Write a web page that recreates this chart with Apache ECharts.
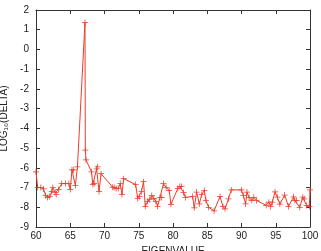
<!DOCTYPE html>
<html>
<head>
<meta charset="utf-8">
<script src="https://cdn.jsdelivr.net/npm/echarts@6/dist/echarts.min.js"></script>
<style>
  html, body { margin: 0; padding: 0; background: #fff; }
  #chart { width: 321px; height: 251px; }
</style>
</head>
<body>
<div id="chart"></div>
<script>
// eigenvalue (x) and log10(delta) (y)
var eigenvalue = [
  60.0, 60.25, 60.7, 61.1, 61.4, 61.7, 62.0, 62.3, 62.45, 62.8, 62.95, 63.3,
  63.75, 64.3, 64.8, 65.0, 65.25, 65.5, 65.75, 66.05, 67.15, 67.2, 67.3, 68.1,
  68.3, 68.5, 68.85, 69.0, 69.2, 69.5, 71.2, 71.4, 71.7, 72.0, 72.3, 72.55,
  72.8, 74.55, 74.85, 75.1, 75.4, 75.7, 75.95, 76.3, 76.6, 76.9, 77.2, 77.5,
  77.75, 78.1, 78.35, 78.6, 79.0, 79.45, 79.7, 80.7, 81.0, 81.25, 81.55, 81.8,
  82.87, 83.1, 83.45, 83.84, 84.2, 84.57, 84.81, 85.2, 86.0, 86.86, 87.3, 87.6,
  88.1, 88.5, 90.0, 90.27, 90.6, 90.8, 91.1, 91.5, 91.8, 92.2, 93.6, 94.0,
  94.25, 94.5, 94.9, 95.23, 95.6, 96.3, 96.85, 97.6, 97.8, 98.05, 98.5, 98.95,
  99.15, 99.5, 99.9, 100.0
];
var logDelta = [
  -6.2, -7.0, -7.0, -7.07, -7.4, -7.5, -7.45, -7.2, -7.0, -7.25, -7.35, -7.1,
  -6.8, -6.8, -6.8, -7.1, -6.1, -6.1, -6.9, -5.95, 1.37, -5.1, -5.6, -6.2,
  -6.85, -6.8, -6.05, -5.95, -7.2, -6.3, -6.98, -7.0, -7.05, -7.05, -6.8, -7.35,
  -6.55, -6.85, -7.55, -7.45, -7.2, -6.7, -7.95, -7.7, -7.6, -7.4, -7.55, -7.7,
  -7.95, -7.5, -7.5, -6.8, -7.0, -7.15, -7.85, -7.05, -6.95, -6.95, -7.25, -7.5,
  -7.45, -8.03, -7.23, -7.83, -7.35, -7.15, -7.66, -8.0, -8.18, -7.45, -7.97, -8.08,
  -7.57, -7.12, -7.12, -7.4, -7.83, -7.23, -7.5, -7.65, -7.5, -7.66, -7.9, -7.74,
  -7.97, -7.74, -7.22, -7.49, -7.84, -7.38, -7.96, -7.47, -7.66, -7.66, -8.0, -7.49,
  -7.57, -7.91, -7.96, -7.12
];

var chart = echarts.init(document.getElementById("chart"));

var frame = "#333";
var red = "#ee3b2b";
var font = "'Liberation Sans', Arial, sans-serif";

chart.setOption({
  animation: false,
  grid: { left: 36, right: 11, top: 10, bottom: 24, containLabel: false, outerBoundsMode: "none" },
  xAxis: [
    {
      type: "value", min: 60, max: 100, interval: 5,
      name: "EIGENVALUE", nameLocation: "middle", nameGap: 19,
      nameTextStyle: { color: "#222", fontSize: 10, fontFamily: font },
      axisLine: { onZero: false, lineStyle: { color: frame, width: 1 } },
      axisTick: { inside: true, length: 4, lineStyle: { color: frame } },
      axisLabel: { color: "#222", fontSize: 10, fontFamily: font, margin: 4 },
      splitLine: { show: false }
    },
    {
      type: "value", min: 60, max: 100, interval: 5, position: "top",
      axisLine: { onZero: false, lineStyle: { color: frame, width: 1 } },
      axisTick: { inside: true, length: 4, lineStyle: { color: frame } },
      axisLabel: { show: false },
      splitLine: { show: false }
    }
  ],
  yAxis: [
    {
      type: "value", min: -9, max: 2, interval: 1,
      name: "LOG\u2081\u2080(DELTA)", nameLocation: "middle", nameGap: 25,
      nameTextStyle: { color: "#222", fontSize: 10, fontFamily: font },
      axisLine: { show: true, onZero: false, lineStyle: { color: frame, width: 1 } },
      axisTick: { show: true, inside: true, length: 4, lineStyle: { color: frame } },
      axisLabel: { color: "#222", fontSize: 10, fontFamily: font, margin: 7 },
      splitLine: { show: false }
    },
    {
      type: "value", min: -9, max: 2, interval: 1, position: "right",
      axisLine: { show: true, onZero: false, lineStyle: { color: frame, width: 1 } },
      axisTick: { show: true, inside: true, length: 4, lineStyle: { color: frame } },
      axisLabel: { show: false },
      splitLine: { show: false }
    }
  ],
  series: [
    {
      type: "line",
      data: eigenvalue.map(function (x, i) { return [x, logDelta[i]]; }),
      symbol: "path://M3.5,0h1v8h-1z M0,3.5h8v1h-8z",
      symbolSize: 6,
      showAllSymbol: true,
      lineStyle: { color: red, width: 1 },
      itemStyle: { color: red },
      z: 3
    }
  ]
});
</script>
</body>
</html>
